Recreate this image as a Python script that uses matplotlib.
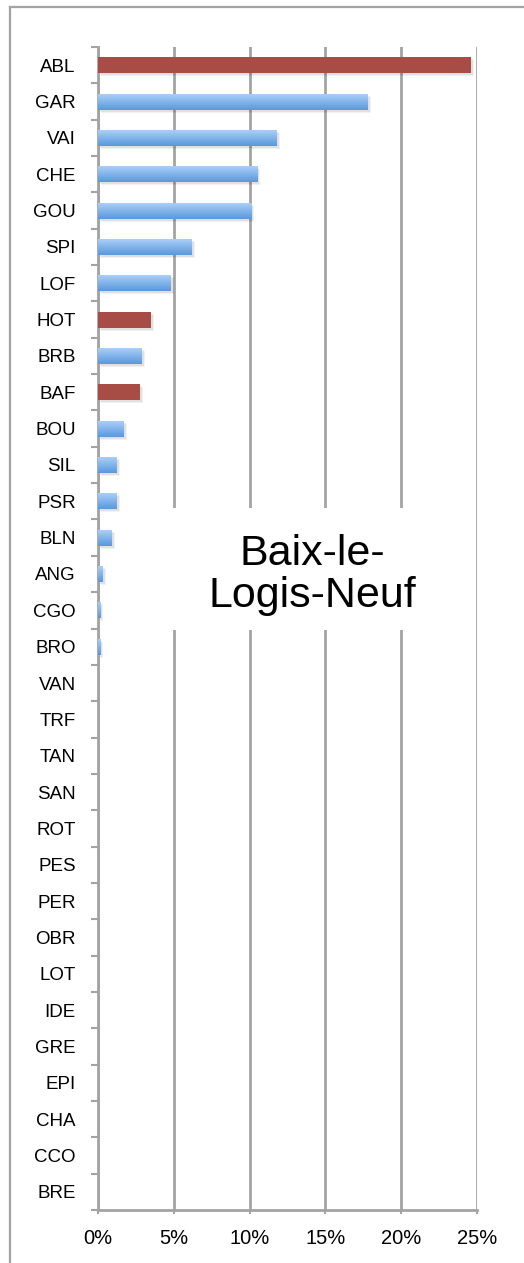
import numpy as np
import matplotlib
matplotlib.use("Agg")
import matplotlib.pyplot as plt
import matplotlib.transforms as mtransforms
from matplotlib.colors import LinearSegmentedColormap
from matplotlib.patches import Rectangle
from matplotlib.lines import Line2D
from matplotlib.ticker import FixedLocator, PercentFormatter

plt.rcParams['font.family'] = ['Liberation Sans', 'DejaVu Sans']

categories = ["ABL", "GAR", "VAI", "CHE", "GOU", "SPI", "LOF", "HOT", "BRB", "BAF",
              "BOU", "SIL", "PSR", "BLN", "ANG", "CGO", "BRO", "VAN", "TRF", "TAN",
              "SAN", "ROT", "PES", "PER", "OBR", "LOT", "IDE", "GRE", "EPI", "CHA",
              "CCO", "BRE"]
values = [24.6, 17.8, 11.8, 10.5, 10.1, 6.2, 4.8, 3.5, 2.9, 2.8,
          1.7, 1.25, 1.25, 0.9, 0.3, 0.15, 0.15, 0.0, 0.0, 0.0,
          0.0, 0.0, 0.0, 0.0, 0.0, 0.0, 0.0, 0.0, 0.0, 0.0,
          0.0, 0.0]
highlight = ["ABL", "HOT", "BAF"]
x_ticks = [0, 5, 10, 15, 20, 25]
title = "Baix-le-\nLogis-Neuf"

GRID = "#a3a3a3"
RED = "#a84c46"
blue_cmap = LinearSegmentedColormap.from_list("bluebar", ["#a9cff8", "#5a98dc"])

n = len(categories)

fig = plt.figure(figsize=(5.24, 12.63), dpi=100)
ax = fig.add_axes([98 / 524, 53 / 1263, 379 / 524, 1163 / 1263])

y = np.arange(n)
bar_h = 0.44

# soft shadow under the bars
for off, alpha in [(3, 0.05), (2, 0.07)]:
    shadow_tr = mtransforms.offset_copy(ax.transData, fig=fig, x=off, y=-off, units="dots")
    ax.barh(y, values, height=bar_h, color="#000000", alpha=alpha,
            transform=shadow_tr, zorder=2, linewidth=0)

bars = ax.barh(y, values, height=bar_h, color="none", linewidth=0, zorder=3)
grad = np.linspace(0, 1, 64).reshape(-1, 1)
for cat, patch in zip(categories, bars.patches):
    if cat in highlight:
        patch.set_facecolor(RED)
        continue
    x0, y0 = patch.get_x(), patch.get_y()
    w, h = patch.get_width(), patch.get_height()
    if w <= 0:
        continue
    im = ax.imshow(grad, cmap=blue_cmap, aspect="auto",
                   extent=(x0, x0 + w, y0 + h, y0), zorder=3,
                   interpolation="bilinear")
    im.set_clip_path(patch)

ax.set_xlim(0, 25)
ax.set_ylim(n - 0.5, -0.5)

# axes styling
for side in ["top", "right"]:
    ax.spines[side].set_visible(False)
for side in ["left", "bottom"]:
    ax.spines[side].set_color(GRID)
    ax.spines[side].set_linewidth(2)

ax.set_xticks(x_ticks)
ax.xaxis.set_major_formatter(PercentFormatter(decimals=0))
ax.tick_params(axis="x", length=3, width=1.5, color=GRID, pad=11, labelsize=14.5)

ax.set_yticks(y)
ax.set_yticklabels(categories)
ax.yaxis.set_minor_locator(FixedLocator(np.arange(n + 1) - 0.5))
ax.tick_params(axis="y", which="major", length=0, pad=16, labelsize=13.5)
ax.tick_params(axis="y", which="minor", length=5, width=1.5, color=GRID)

ax.xaxis.grid(True, color=GRID, linewidth=2)
ax.set_axisbelow(True)

# white label box with the commune name
ax.add_patch(Rectangle((0.164, 0.499), 0.80, 0.105, transform=ax.transAxes,
                       facecolor="white", edgecolor="none", zorder=1.5))
ax.text(0.565, 0.546, title, transform=ax.transAxes, ha="center", va="center",
        fontsize=31, linespacing=1.08, zorder=4)

# outer frame
fig.add_artist(Line2D([10 / 524, 10 / 524], [0, 1 - 7 / 1263], color=GRID, linewidth=1.6))
fig.add_artist(Line2D([10 / 524, 1], [1 - 7 / 1263, 1 - 7 / 1263], color=GRID, linewidth=1.6))

fig.savefig("out.png", dpi=100, facecolor="white")
